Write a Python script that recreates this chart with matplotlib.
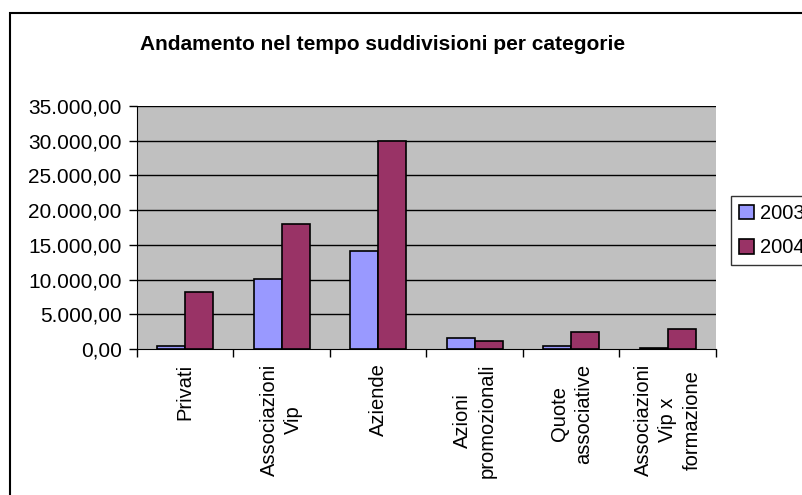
import matplotlib.pyplot as plt
import matplotlib.patches as mpatches
import numpy as np

plt.rcParams['font.family'] = ['Liberation Sans', 'DejaVu Sans']

# data
categories = ["Privati", "Associazioni\nVip", "Aziende", "Azioni\npromozionali",
              "Quote\nassociative", "Associazioni\nVip x\nformazione"]
values_2003 = [400, 10150, 14100, 1650, 430, 150]
values_2004 = [8150, 18050, 30000, 1200, 2500, 2900]
series_names = ["2003", "2004"]
colors = ["#9999FF", "#993366"]
yticks = np.arange(0, 35001, 5000)


def fmt_it(v):
    s = "{:,.2f}".format(v)
    return s.replace(",", "X").replace(".", ",").replace("X", ".")


fig = plt.figure(figsize=(8.03, 4.95), dpi=100)
ax = fig.add_axes([137 / 803, 1 - 349 / 495, (716 - 137) / 803, (349 - 106) / 495])

x = np.arange(len(categories))
w = 0.29
ax.bar(x - w / 2, values_2003, w, color=colors[0], edgecolor="black", linewidth=1.2,
       label=series_names[0], zorder=3)
ax.bar(x + w / 2, values_2004, w, color=colors[1], edgecolor="black", linewidth=1.2,
       label=series_names[1], zorder=3)

ax.set_facecolor("#C0C0C0")
ax.set_xlim(-0.5, len(categories) - 0.5)
ax.set_ylim(0, 35000)
ax.set_yticks(yticks)
ax.set_yticklabels([fmt_it(v) for v in yticks], fontsize=15)
for v in yticks[1:]:
    ax.axhline(v, color="black", linewidth=1, zorder=1)

# category ticks at group boundaries, labels at centers
ax.set_xticks(np.arange(len(categories) + 1) - 0.5)
ax.set_xticklabels([])
ax.tick_params(axis="x", direction="out", length=6, width=1)
ax.tick_params(axis="y", direction="out", length=6, width=1, pad=5)
for i, c in enumerate(categories):
    ax.text(i, -0.06, c, transform=ax.get_xaxis_transform(), rotation=90,
            ha="center", va="top", multialignment="center", fontsize=14.5,
            linespacing=1.35)

ax.spines["top"].set_visible(False)
ax.spines["right"].set_visible(False)
ax.spines["left"].set_color("black")
ax.spines["bottom"].set_color("black")

fig.text(383 / 803, 1 - 45 / 495, "Andamento nel tempo suddivisioni per categorie",
         ha="center", va="center", fontsize=15, fontweight="bold")

leg = fig.legend(loc="upper left", bbox_to_anchor=(731 / 803, 1 - 196 / 495),
                 fontsize=14.5, frameon=True, fancybox=False, handlelength=0.75,
                 handleheight=0.75, handletextpad=0.3, borderpad=0.4,
                 labelspacing=0.75, borderaxespad=0)
leg.get_frame().set_edgecolor("black")
leg.get_frame().set_linewidth(1)

# chart border
fig.patches.append(mpatches.Rectangle((10 / 803, -0.05), 1.1, 1 - 13 / 495 + 0.05,
                                      transform=fig.transFigure, fill=False,
                                      edgecolor="black", linewidth=1.5, clip_on=False))

fig.savefig("out.png", dpi=100)
